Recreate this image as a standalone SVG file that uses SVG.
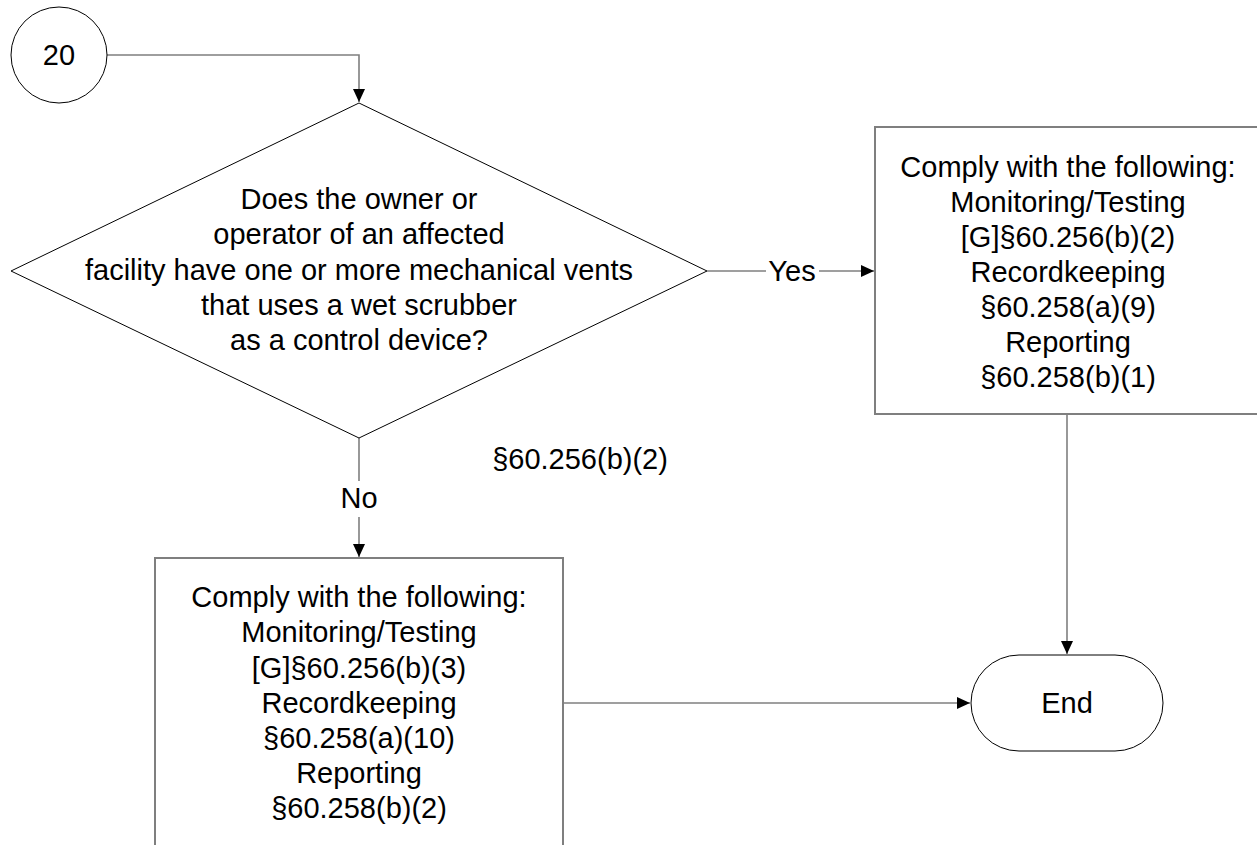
<svg xmlns="http://www.w3.org/2000/svg" width="1257" height="845" viewBox="0 0 1257 845">
<style>
text{font-family:"Liberation Sans",Arial,sans-serif;font-size:29px;fill:#000;text-anchor:middle}
.thin{fill:#fff;stroke:#000;stroke-width:1}
.box{fill:#fff;stroke:#7f7f7f;stroke-width:2}
.conn{fill:none;stroke:#7f7f7f;stroke-width:1.6}
.lblbg{fill:#fff;stroke:none}
</style>
<defs>
<marker id="arr" markerUnits="userSpaceOnUse" markerWidth="14" markerHeight="12" refX="13" refY="6" orient="auto">
<path d="M0,0 L13,6 L0,12 z" fill="#000"/>
</marker>
</defs>
<rect width="1257" height="845" fill="#fff"/>
<g id="connectors">
<polyline class="conn" points="107,55 359,55 359,102" marker-end="url(#arr)"/>
<line class="conn" x1="707" y1="271" x2="874" y2="271" marker-end="url(#arr)"/>
<rect class="lblbg" x="766" y="256" width="53" height="30"/>
<text x="792" y="281">Yes</text>
<line class="conn" x1="359" y1="438" x2="359" y2="557" marker-end="url(#arr)"/>
<rect class="lblbg" x="340" y="481" width="38" height="36"/>
<text x="359" y="508">No</text>
<line class="conn" x1="1067" y1="414" x2="1067" y2="654" marker-end="url(#arr)"/>
<line class="conn" x1="563" y1="703" x2="970" y2="703" marker-end="url(#arr)"/>
</g>
<g id="node-20">
<circle class="thin" cx="59" cy="55" r="48"/>
<text x="59" y="65">20</text>
</g>
<g id="node-decision">
<polygon class="thin" points="359,103 707,271 359,438 11,271"/>
<text x="359" y="209">Does the owner or</text>
<text x="359" y="244">operator of an affected</text>
<text x="359" y="280">facility have one or more mechanical vents</text>
<text x="359" y="315">that uses a wet scrubber</text>
<text x="359" y="350">as a control device?</text>
</g>
<g id="node-yes-box">
<rect class="box" x="875" y="127" width="388" height="287"/>
<text x="1068" y="177">Comply with the following:</text>
<text x="1068" y="212">Monitoring/Testing</text>
<text x="1068" y="247">[G]§60.256(b)(2)</text>
<text x="1068" y="282">Recordkeeping</text>
<text x="1068" y="317">§60.258(a)(9)</text>
<text x="1068" y="352">Reporting</text>
<text x="1068" y="387">§60.258(b)(1)</text>
</g>
<g id="node-ref">
<text x="580" y="469">§60.256(b)(2)</text>
</g>
<g id="node-no-box">
<rect class="box" x="155" y="558" width="408" height="300"/>
<text x="359" y="607">Comply with the following:</text>
<text x="359" y="642">Monitoring/Testing</text>
<text x="359" y="678">[G]§60.256(b)(3)</text>
<text x="359" y="713">Recordkeeping</text>
<text x="359" y="748">§60.258(a)(10)</text>
<text x="359" y="783">Reporting</text>
<text x="359" y="818">§60.258(b)(2)</text>
</g>
<g id="node-end">
<rect class="thin" x="971" y="655" width="192" height="96" rx="48" ry="48" stroke="#333"/>
<text x="1067" y="713">End</text>
</g>
</svg>
